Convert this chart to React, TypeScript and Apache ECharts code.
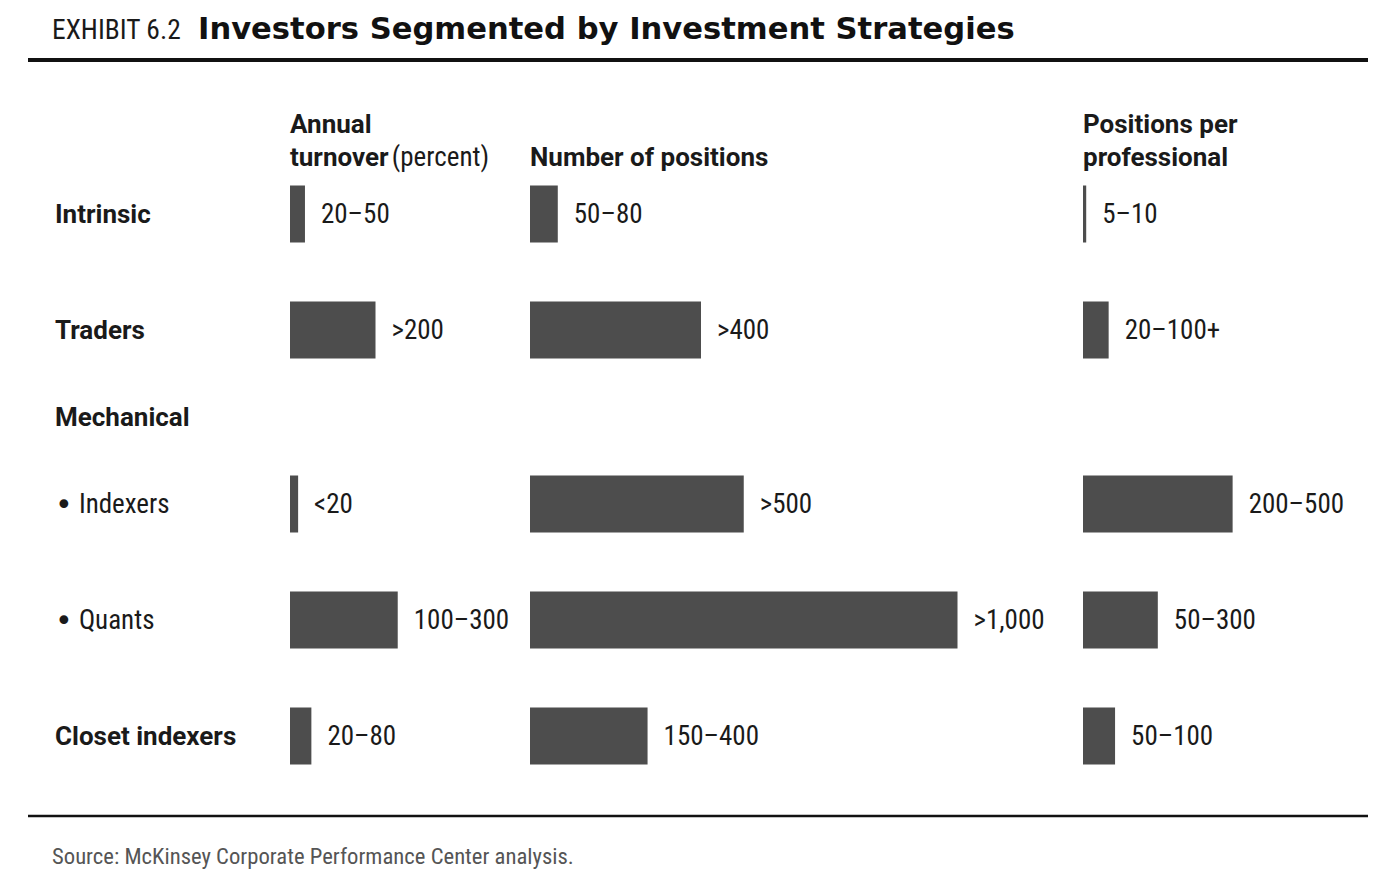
import React, { useEffect, useRef } from "react";
import * as echarts from "echarts";

// Rows (top to bottom) and their vertical slot (quarter-row units)
const rows = ["Intrinsic", "Traders", "Mechanical", "• Indexers", "• Quants", "Closet indexers"];
const boldRows = ["Intrinsic", "Traders", "Mechanical", "Closet indexers"];
const rowSlots = [0, 4, 7, 10, 14, 18];
const slotCount = 19;

// Annual turnover (percent)
const turnoverValues = [35, 200, null, 19, 252, 50];
const turnoverLabels = ["20–50", ">200", "", "<20", "100–300", "20–80"];
// Number of positions
const positionsValues = [65, 400, null, 500, 1000, 275];
const positionsLabels = ["50–80", ">400", "", ">500", ">1,000", "150–400"];
// Positions per professional
const perProValues = [7.5, 60, null, 350, 175, 75];
const perProLabels = ["5–10", "20–100+", "", "200–500", "50–300", "50–100"];

const TITLE_PREFIX = "EXHIBIT 6.2";
const TITLE = "Investors Segmented by Investment Strategies";
const SOURCE = "Source: McKinsey Corporate Performance Center analysis.";

const NARROW = "'Roboto Condensed', Roboto, sans-serif";
const BOLD = "Roboto, 'Roboto Condensed', sans-serif";
const INK = "#1a1a1a";
const BAR = "#4d4d4d";

function toSlots<T>(arr: T[], fill: T): T[] {
  return Array.from({ length: slotCount }, (_, i) => {
    const r = rowSlots.indexOf(i);
    return r >= 0 ? arr[r] : fill;
  });
}

export default function App() {
  const ref = useRef<HTMLDivElement>(null);

  useEffect(() => {
    const chart = echarts.init(ref.current!, null, { renderer: "svg" });

    const categories = Array.from({ length: slotCount }, (_, i) => {
      const r = rowSlots.indexOf(i);
      return r >= 0 ? rows[r] : "_" + i;
    });

    const pxPerUnit = 0.4275;
    const gridTop = 199.5;
    const gridHeight = 551;
    const panels = [
      { left: 290, max: 500, values: turnoverValues, labels: turnoverLabels },
      { left: 530, max: 1100, values: positionsValues, labels: positionsLabels },
      { left: 1083, max: 600, values: perProValues, labels: perProLabels },
    ];

    const grid = panels.map((p) => ({
      left: p.left,
      width: p.max * pxPerUnit,
      top: gridTop,
      height: gridHeight,
      containLabel: false,
    }));

    const xAxis = panels.map((p, i) => ({
      type: "value",
      gridIndex: i,
      min: 0,
      max: p.max,
      show: false,
    }));

    const rowLabel = (v: string) => {
      if (v.startsWith("_")) return "";
      if (boldRows.includes(v)) return `{b|${v}}`;
      if (v.startsWith("• ")) return `{dot|•}{r| ${v.slice(2)}}`;
      return `{r|${v}}`;
    };

    const yAxis = panels.map((p, i) => ({
      type: "category",
      gridIndex: i,
      data: categories,
      inverse: true,
      axisLine: { show: false },
      axisTick: { show: false },
      splitLine: { show: false },
      axisLabel: {
        show: i === 0,
        interval: 0,
        align: "left",
        margin: 290 - 55,
        formatter: rowLabel,
        rich: {
          b: { fontFamily: BOLD, fontWeight: 700, fontSize: 26, color: INK },
          r: { fontFamily: NARROW, fontSize: 27, color: INK },
          dot: { fontFamily: "'DejaVu Sans', sans-serif", fontSize: 30, color: INK },
        },
      },
    }));

    const series = panels.map((p, i) => {
      const slotLabels = toSlots(p.labels, "");
      return {
        type: "bar",
        xAxisIndex: i,
        yAxisIndex: i,
        data: toSlots(p.values as (number | null)[], null),
        barWidth: 57,
        clip: false,
        itemStyle: { color: BAR },
        label: {
          show: true,
          position: "right",
          distance: 16,
          fontFamily: NARROW,
          fontSize: 27,
          color: INK,
          formatter: (d: any) => slotLabels[d.dataIndex],
        },
        silent: true,
      };
    });

    const headerBold = { fontFamily: BOLD, fontWeight: 700, fontSize: 26, fill: INK };

    const graphic = [
      {
        type: "text",
        x: 52,
        y: 29,
        style: { text: TITLE_PREFIX, fontFamily: NARROW, fontSize: 27.5, fill: INK, verticalAlign: "middle" },
      },
      {
        type: "text",
        x: 198,
        y: 28,
        style: {
          text: TITLE,
          fontFamily: "'DejaVu Sans', sans-serif",
          fontWeight: 700,
          fontSize: 30.6,
          fill: "#111",
          verticalAlign: "middle",
        },
      },
      {
        type: "line",
        shape: { x1: 28, y1: 60, x2: 1368, y2: 60 },
        style: { stroke: "#111", lineWidth: 4 },
      },
      { type: "text", x: 290, y: 124, style: { ...headerBold, text: "Annual", verticalAlign: "middle" } },
      {
        type: "text",
        x: 290,
        y: 157,
        style: {
          text: "{b|turnover} {r|(percent)}",
          verticalAlign: "middle",
          rich: {
            b: { fontFamily: BOLD, fontWeight: 700, fontSize: 26, fill: INK },
            r: { fontFamily: NARROW, fontSize: 27, fill: INK },
          },
        },
      },
      { type: "text", x: 530, y: 157, style: { ...headerBold, text: "Number of positions", verticalAlign: "middle" } },
      { type: "text", x: 1083, y: 124, style: { ...headerBold, text: "Positions per", verticalAlign: "middle" } },
      { type: "text", x: 1083, y: 157, style: { ...headerBold, text: "professional", verticalAlign: "middle" } },
      {
        type: "line",
        shape: { x1: 28, y1: 816, x2: 1368, y2: 816 },
        style: { stroke: "#111", lineWidth: 2.5 },
      },
      {
        type: "text",
        x: 52,
        y: 856,
        style: { text: SOURCE, fontFamily: NARROW, fontSize: 22.7, fill: "#555", verticalAlign: "middle" },
      },
    ];

    chart.setOption({
      animation: false,
      backgroundColor: "#fff",
      grid,
      xAxis,
      yAxis,
      series,
      graphic,
    });

    return () => chart.dispose();
  }, []);

  return (
    <div
      ref={ref}
      style={{ position: "absolute", left: 0, top: 0, width: 1400, height: 882, background: "#fff" }}
    />
  );
}
